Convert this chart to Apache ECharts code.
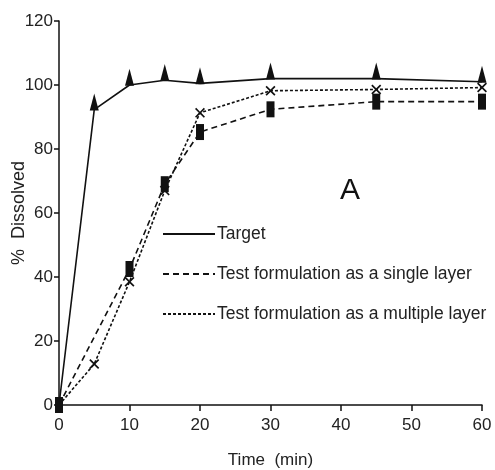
<!DOCTYPE html>
<html><head><meta charset="utf-8">
<script src="https://cdn.jsdelivr.net/npm/echarts@6/dist/echarts.min.js"></script>
<style>html,body{margin:0;padding:0;background:#fff}#c{width:495px;height:470px}</style>
</head><body><div id="c"></div>
<script>
const timeMin = [0, 5, 10, 15, 20, 30, 45, 60];
const target = [0, 92.3, 100, 101.5, 100.5, 102, 102, 101];
const singleTimes = [0, 10, 15, 20, 30, 45, 60];
const singleLayer = [0, 42.5, 69, 85.3, 92.4, 94.8, 94.8];
const multipleLayer = [0, 12.8, 38.5, 67, 91.3, 98.2, 98.6, 99.2];
const seriesNames = ['Target', 'Test formulation as a single layer', 'Test formulation as a multiple layer'];
const yTicks = [0, 20, 40, 60, 80, 100, 120];
const xTicks = [0, 10, 20, 30, 40, 50, 60];

const TRI = 'path://M0,17 L4.5,0 L9,17 Z';
const RECT = 'path://M0,0 L8,0 L8,16 L0,16 Z';
const XMARK = 'path://M0,1.2 L1.2,0 L5,3.8 L8.8,0 L10,1.2 L6.2,5 L10,8.8 L8.8,10 L5,6.2 L1.2,10 L0,8.8 L3.8,5 Z';
const font = 'Liberation Sans, Arial, sans-serif';

const chart = echarts.init(document.getElementById('c'), null, {renderer: 'canvas'});
chart.setOption({
  animation: false,
  backgroundColor: '#fff',
  grid: {left: 59, right: 13, top: 21, bottom: 65, containLabel: false, outerBoundsMode: 'none'},
  legend: {
    orient: 'vertical', left: 157, top: 220, itemGap: 22,
    itemWidth: 52, itemHeight: 16,
    textStyle: {fontFamily: font, fontSize: 17.5, color: '#222', padding: [0,0,0,-3]},
    itemStyle: {opacity: 0},
    data: seriesNames
  },
  xAxis: {
    type: 'value', min: 0, max: 60, interval: 10,
    name: 'Time  (min)', nameLocation: 'middle', nameGap: 47, nameMoveOverlap: false,
    nameTextStyle: {fontFamily: font, fontSize: 17, color: '#222'},
    axisLine: {lineStyle: {color: '#111', width: 1.5}},
    axisTick: {show: true, length: 6, lineStyle: {color: '#111', width: 1.5}},
    axisLabel: {fontFamily: font, fontSize: 17, color: '#222', margin: 12,
      formatter: v => xTicks.includes(v) ? String(v) : ''},
    splitLine: {show: false}
  },
  yAxis: {
    type: 'value', min: 0, max: 120, interval: 20,
    name: '%  Dissolved', nameLocation: 'middle', nameGap: 31, nameMoveOverlap: false,
    nameTextStyle: {fontFamily: font, fontSize: 18, color: '#222'},
    axisLine: {show: true, lineStyle: {color: '#111', width: 1.5}},
    axisTick: {show: true, length: 5, lineStyle: {color: '#111', width: 1.5}},
    axisLabel: {fontFamily: font, fontSize: 17, color: '#222', margin: 6,
      formatter: v => yTicks.includes(v) ? String(v) : ''},
    splitLine: {show: false}
  },
  graphic: [{
    type: 'text', left: 340, top: 176,
    style: {text: 'A', font: '30px ' + font, fill: '#111'}
  }],
  series: [
    {
      name: seriesNames[0], type: 'line',
      data: timeMin.map((t, i) => [t, target[i]]),
      lineStyle: {color: '#111', width: 1.6, type: 'solid'},
      itemStyle: {color: '#111'},
      symbol: (v, p) => p.dataIndex === 0 ? 'none' : TRI,
      symbolSize: [9, 17], symbolOffset: [0, '-45%'], showAllSymbol: true
    },
    {
      name: seriesNames[1], type: 'line',
      data: singleTimes.map((t, i) => [t, singleLayer[i]]),
      lineStyle: {color: '#111', width: 1.6, type: [6, 4]},
      itemStyle: {color: '#111'},
      symbol: RECT, symbolSize: [8, 16], showAllSymbol: true
    },
    {
      name: seriesNames[2], type: 'line',
      data: timeMin.map((t, i) => [t, multipleLayer[i]]),
      lineStyle: {color: '#111', width: 1.6, type: [3, 2]},
      itemStyle: {color: '#111'},
      symbol: (v, p) => p.dataIndex === 0 ? 'none' : XMARK,
      symbolSize: [10, 10], showAllSymbol: true
    }
  ]
});
</script></body></html>
